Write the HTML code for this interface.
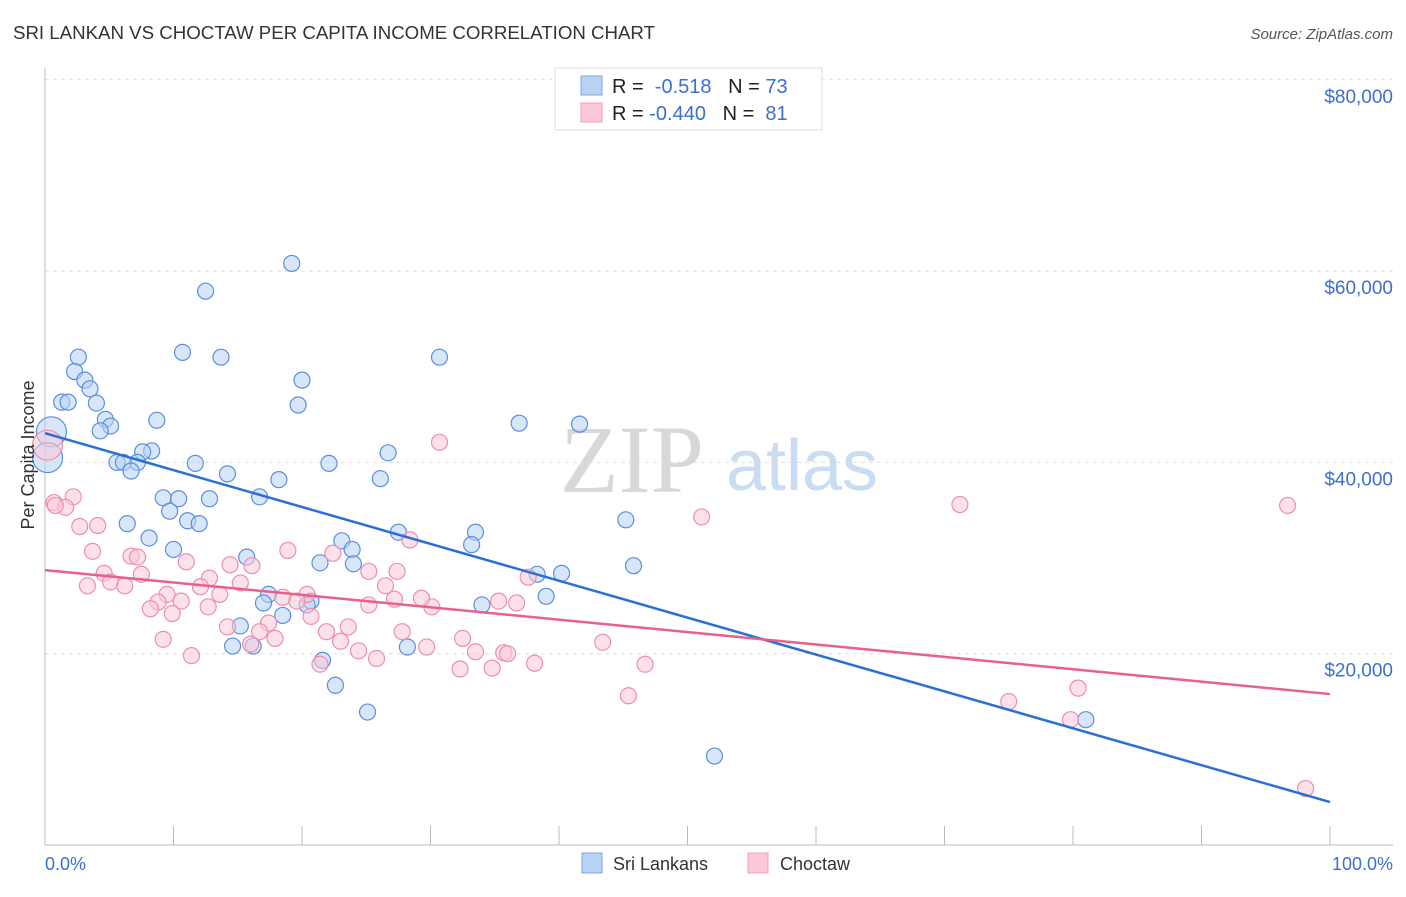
<!DOCTYPE html>
<html><head><meta charset="utf-8"><style>
body{margin:0;background:#fff;font-family:"Liberation Sans",sans-serif}
svg text{font-family:"Liberation Sans",sans-serif}
</style></head><body>
<svg id="c" width="1406" height="892" xmlns="http://www.w3.org/2000/svg">
<text x="13" y="39" font-size="18.7" fill="#333" textLength="642">SRI LANKAN VS CHOCTAW PER CAPITA INCOME CORRELATION CHART</text>
<text x="1393" y="39" font-size="15" fill="#555" text-anchor="end" font-style="italic">Source: ZipAtlas.com</text>
<g>
<text x="632" y="492" font-size="96" fill="#d8d8d8" text-anchor="middle" font-family="Liberation Serif" style="font-family:'Liberation Serif',serif">ZIP</text>
<text x="802" y="490" font-size="72" fill="#c9dcf2" text-anchor="middle">atlas</text>
</g>
<g id="grid"></g><g id="axes"></g><g id="pts"></g><g id="lines"></g>
<text transform="translate(34,455) rotate(-90)" font-size="18" fill="#333" text-anchor="middle">Per Capita Income</text>
<text x="45" y="870" font-size="18" fill="#3b6fd4">0.0%</text>
<text x="1393" y="870" font-size="18" fill="#3b6fd4" text-anchor="end">100.0%</text>
<g>
<rect x="555" y="68" width="267" height="62" fill="#fff" stroke="#ddd"/>
<rect x="581" y="76" width="21" height="19" fill="#b8d2f5" stroke="#7fa7e3"/>
<rect x="581" y="103" width="21" height="19" fill="#fcc8d8" stroke="#f0a0ba"/>
<text x="612" y="93" font-size="20" fill="#222">R = <tspan fill="#3b6fd4">&#160;-0.518</tspan>&#160;&#160;&#160;N = <tspan fill="#3b6fd4">73</tspan></text>
<text x="612" y="120" font-size="20" fill="#222">R = <tspan fill="#3b6fd4">-0.440</tspan>&#160;&#160;&#160;N = <tspan fill="#3b6fd4">&#160;81</tspan></text>
</g>
<g>
<rect x="582" y="853" width="20" height="20" fill="#b8d2f5" stroke="#7fa7e3"/>
<text x="613" y="870" font-size="18" fill="#333">Sri Lankans</text>
<rect x="748" y="853" width="20" height="20" fill="#fcc8d8" stroke="#f0a0ba"/>
<text x="780" y="870" font-size="18" fill="#333">Choctaw</text>
</g>
</svg>
<script>
const yTicks=[20000,40000,60000,80000];
const yTickLabels=["$20,000","$40,000","$60,000","$80,000"];
const xTicks=[0,10,20,30,40,50,60,70,80,90,100];
const blueX=[19.2,12.5,2.6,10.7,13.7,30.7,2.3,3.1,20.0,3.5,1.3,1.8,4.0,19.7,4.7,8.7,5.1,36.9,41.6,4.3,0.5,0.2,8.3,7.6,26.7,5.6,7.2,6.1,11.7,22.1,6.7,14.2,26.1,18.2,9.2,10.4,12.8,16.7,9.7,11.1,12.0,6.4,45.2,33.5,27.5,8.1,23.1,33.2,23.9,10.0,15.7,21.4,24.0,45.8,38.3,40.2,17.4,17.0,20.7,20.4,34.0,39.0,18.5,15.2,14.6,16.2,28.2,21.6,22.6,25.1,81.0,52.1];
const blueY=[60.8,57.9,51.0,51.5,51.0,51.0,49.5,48.6,48.6,47.7,46.3,46.3,46.2,46.0,44.5,44.4,43.8,44.1,44.0,43.3,43.2,40.5,41.2,41.1,41.0,40.0,40.0,40.0,39.9,39.9,39.1,38.8,38.3,38.2,36.3,36.2,36.2,36.4,34.9,33.9,33.6,33.6,34.0,32.7,32.7,32.1,31.8,31.4,30.9,30.9,30.1,29.5,29.4,29.2,28.3,28.4,26.2,25.3,25.5,25.1,25.1,26.0,24.0,22.9,20.8,20.8,20.7,19.3,16.7,13.9,13.1,9.3];
const pinkX=[0.2,30.7,0.7,2.2,1.6,71.2,96.7,51.1,4.1,2.7,28.4,3.7,6.7,7.2,18.9,22.4,11.0,14.4,16.1,4.6,7.5,12.8,5.1,26.5,6.2,15.2,3.3,12.1,13.6,25.2,27.4,37.6,20.4,9.5,18.5,8.8,10.6,8.2,12.7,19.6,30.1,27.2,29.3,25.2,36.7,35.3,20.7,9.9,14.2,17.4,16.7,23.6,21.9,27.8,32.5,17.9,9.2,43.4,11.4,23.0,24.4,16.0,29.7,35.7,36.0,33.5,25.8,21.4,32.3,34.8,38.1,46.7,45.4,75.0,80.4,79.8,98.1,0.8];
const pinkY=[41.8,42.1,35.8,36.4,35.3,35.6,35.5,34.3,33.4,33.3,31.9,30.7,30.2,30.1,30.8,30.5,29.6,29.3,29.2,28.4,28.3,27.9,27.5,27.1,27.1,27.4,27.1,27.0,26.2,28.6,28.6,28.0,26.2,26.2,25.9,25.4,25.5,24.7,24.9,25.5,24.9,25.7,25.8,25.1,25.3,25.5,23.9,24.2,22.8,23.2,22.3,22.8,22.3,22.3,21.6,21.6,21.5,21.2,19.8,21.3,20.3,21.0,20.7,20.1,20.0,20.2,19.5,18.9,18.4,18.5,19.0,18.9,15.6,15.0,16.4,13.1,5.9,35.5];
const blueBig=[20,21];
const pinkBig=[0];
const blueTrend=[43050,4490];
const pinkTrend=[28740,15780];
const NS="http://www.w3.org/2000/svg";
const X=v=>45+v*12.85;
const Y=v=>845-v/20000*191.3;
function mk(tag,attrs,parent){const e=document.createElementNS(NS,tag);for(const k in attrs)e.setAttribute(k,attrs[k]);document.getElementById(parent).appendChild(e);return e;}
yTicks.forEach((t,i)=>{
 const g=mk('line',{x1:45,x2:1393,y1:Y(t),y2:Y(t),stroke:'#ddd','stroke-dasharray':'4,4'},'grid');
 
 
 const l=mk('text',{x:1393,y:Y(t)+23,'font-size':19,fill:'#3b6fd4','text-anchor':'end'},'grid');
 l.textContent=yTickLabels[i];
 
 
});
const ax1=mk('line',{x1:45,x2:45,y1:68,y2:845,stroke:'#bbb'},'axes');


const ax2=mk('line',{x1:45,x2:1393,y1:845,y2:845,stroke:'#bbb'},'axes');


xTicks.forEach(t=>{
 const k=mk('line',{x1:X(t),x2:X(t),y1:826,y2:845,stroke:'#bbb'},'axes');
 
 
});
function pts(xs,ys,big,fill,stroke,name){
 xs.forEach((x,i)=>{
  const c=mk('circle',{cx:X(x),cy:Y(ys[i]*1000),r:big.includes(i)?15:8,fill:fill,'fill-opacity':0.55,stroke:stroke,'stroke-width':1.2},'pts');
  
  
 });
}
pts(blueX,blueY,blueBig,'#b8d2f5','#5b8fdc','sri-lankan-point');
pts(pinkX,pinkY,pinkBig,'#fcc8d8','#ec8fae','choctaw-point');
const bl=mk('line',{x1:X(0),y1:Y(blueTrend[0]),x2:X(100),y2:Y(blueTrend[1]),stroke:'#2a6fd6','stroke-width':2.5},'lines');


const pl=mk('line',{x1:X(0),y1:Y(pinkTrend[0]),x2:X(100),y2:Y(pinkTrend[1]),stroke:'#e8608c','stroke-width':2.5},'lines');


</script>
</body></html>
